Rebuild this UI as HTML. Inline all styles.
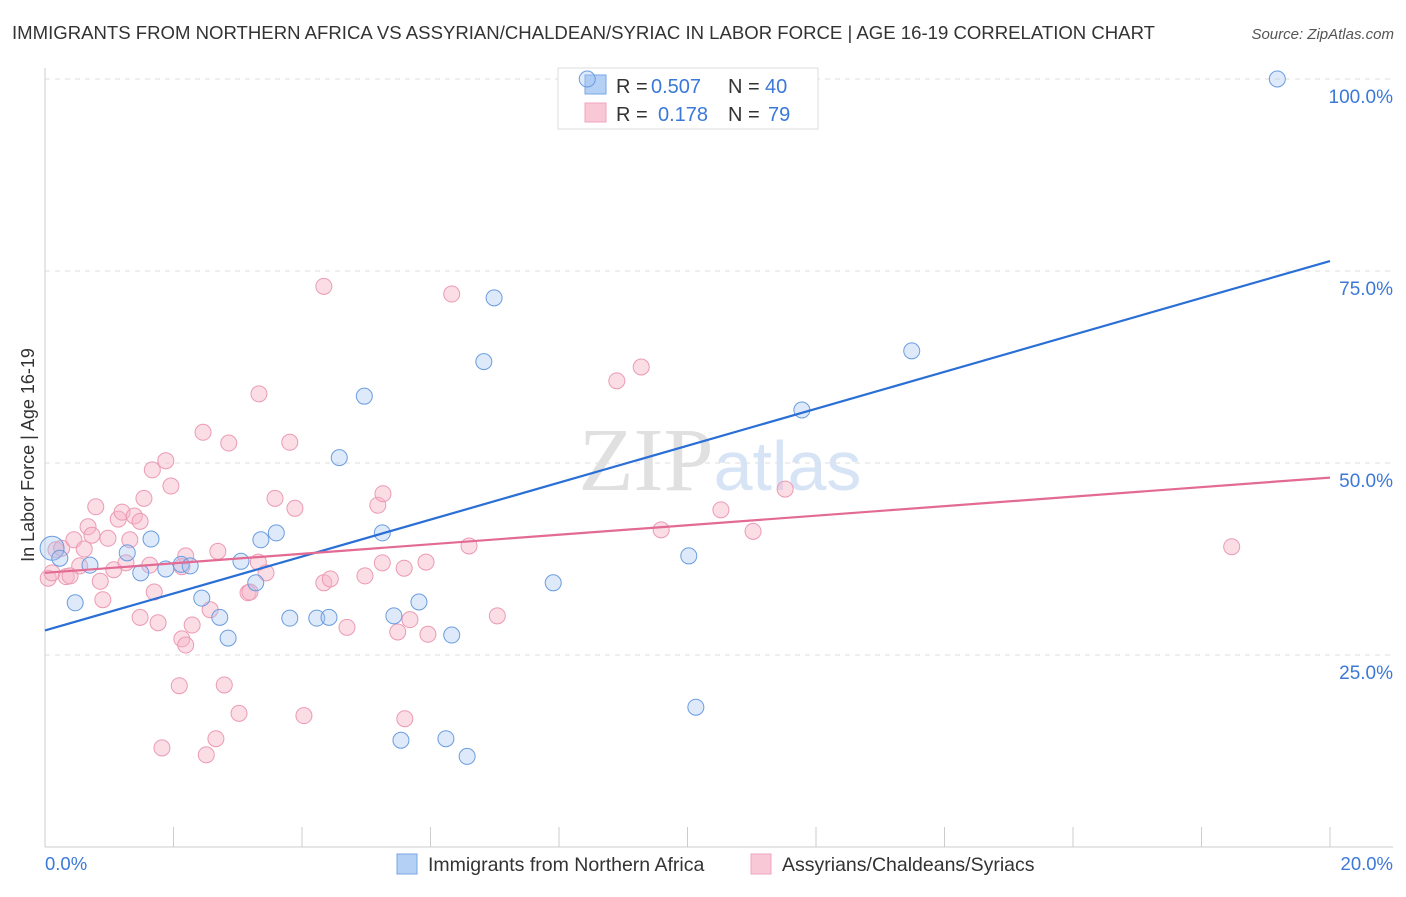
<!DOCTYPE html>
<html><head><meta charset="utf-8"><style>
body{margin:0;background:#fff;font-family:"Liberation Sans",sans-serif;}
svg text{font-family:"Liberation Sans",sans-serif;}
</style></head><body>
<svg width="1406" height="892" xmlns="http://www.w3.org/2000/svg">
<text x="12" y="39" font-size="18.5" fill="#333" textLength="1143" lengthAdjust="spacingAndGlyphs">IMMIGRANTS FROM NORTHERN AFRICA VS ASSYRIAN/CHALDEAN/SYRIAC IN LABOR FORCE | AGE 16-19 CORRELATION CHART</text>
<text x="1394" y="39" font-size="15" fill="#555" text-anchor="end" font-style="italic">Source: ZipAtlas.com</text>
<g id="grid"></g>
<text x="720" y="490" font-size="90" fill="#e4e4e4" text-anchor="middle" font-family="Liberation Serif"><tspan fill="#e0e0e0" font-family="Liberation Serif">ZIP</tspan><tspan fill="#d6e4f5" font-size="70" font-family="Liberation Sans">atlas</tspan></text>
<text transform="translate(34,455) rotate(-90)" font-size="18" fill="#333" text-anchor="middle">In Labor Force | Age 16-19</text>
<g>
<rect x="558" y="68" width="260" height="61" fill="#fff" stroke="#ddd"/>
<rect x="585" y="75" width="21" height="19" fill="#b5d0f5" stroke="#7aa6e6"/>
<rect x="585" y="103" width="21" height="19" fill="#f9c8d6" stroke="#f0a6bd"/>
<text x="616" y="93" font-size="20" fill="#333">R = <tspan x="651" fill="#3b78d8">0.507</tspan><tspan x="728">N = </tspan><tspan x="765" fill="#3b78d8">40</tspan></text>
<text x="616" y="121" font-size="20" fill="#333">R = <tspan x="658" fill="#3b78d8">0.178</tspan><tspan x="728">N = </tspan><tspan x="768" fill="#3b78d8">79</tspan></text>
</g>
<g id="pts"></g>
<g id="lines"></g>
<text x="45" y="870" font-size="18.5" fill="#3b78d8">0.0%</text>
<text x="1393" y="870" font-size="18.5" fill="#3b78d8" text-anchor="end">20.0%</text>
<g>
<rect x="397" y="854" width="20" height="20" fill="#b5d0f5" stroke="#7aa6e6"/>
<text x="428" y="871" font-size="19.5" fill="#333">Immigrants from Northern Africa</text>
<rect x="751" y="854" width="20" height="20" fill="#f9c8d6" stroke="#f0a6bd"/>
<text x="782" y="871" font-size="19.5" fill="#333">Assyrians/Chaldeans/Syriacs</text>
</g>
</svg>
<script>
const yTicks=[100,75,50,25];
const yTickLabels=["100.0%","75.0%","50.0%","25.0%"];
const blueX=[0.11,0.23,0.47,0.7,1.28,1.49,1.65,1.88,2.12,2.26,2.44,2.72,2.85,3.05,3.28,3.36,3.6,3.81,4.23,4.42,4.58,4.97,5.25,5.43,5.82,6.33,6.57,6.24,5.54,6.83,6.99,7.91,10.02,10.13,11.78,13.49,19.18,8.44];
const blueY=[38.9,37.6,31.8,36.7,38.3,35.7,40.1,36.2,36.8,36.6,32.4,29.9,27.2,37.2,34.4,40.0,40.9,29.8,29.8,29.9,50.7,58.7,40.9,30.1,31.9,27.6,11.8,14.1,13.9,63.2,71.5,34.4,37.9,18.2,56.9,64.6,100,100];
const pinkX=[.05,.11,.17,.26,.33,.39,.45,.54,.61,.67,.73,.79,.86,.90,.98,1.07,1.14,1.20,1.26,1.32,1.39,1.48,1.48,1.54,1.63,1.70,1.67,1.76,1.82,1.88,1.96,2.09,2.13,2.19,2.19,2.29,2.46,2.51,2.57,2.66,2.69,2.79,2.86,3.02,3.16,3.19,3.33,3.44,3.58,3.81,3.89,4.34,4.34,4.44,4.70,4.98,5.18,5.26,5.25,5.49,5.59,5.60,5.68,5.93,5.96,6.33,6.60,7.04,4.03,8.90,9.28,9.59,10.52,11.02,11.52,18.47,3.32,2.13];
const pinkY=[35.0,35.7,38.7,38.9,35.2,35.3,40.0,36.6,38.8,41.7,40.6,44.3,34.6,32.2,40.2,36.1,42.7,43.6,37.0,40.0,43.1,42.4,29.9,45.4,36.7,33.2,49.1,29.2,12.9,50.3,47.0,21.0,27.1,26.3,37.9,28.9,54.0,12.0,30.9,14.1,38.5,21.1,52.6,17.4,33.1,33.2,59.0,35.7,45.4,52.7,44.1,73.0,34.4,34.9,28.6,35.3,44.5,46.0,37.0,28.0,36.3,16.7,29.6,37.1,27.7,72.0,39.2,30.1,17.1,60.7,62.5,41.3,43.9,41.1,46.6,39.1,37.1,36.5];
const blueLine=[28.2,76.3];
const pinkLine=[35.7,48.1];
const NS="http://www.w3.org/2000/svg";
const sx=v=>45+v/20*1285, sy=v=>847-v/100*768;
function mk(t,a,p){const e=document.createElementNS(NS,t);for(const k in a)e.setAttribute(k,a[k]);p.appendChild(e);return e;}
const grid=document.getElementById('grid');
yTicks.forEach((t,i)=>{
 const l=mk('line',{x1:45,x2:1393,y1:sy(t),y2:sy(t),stroke:'#ddd','stroke-dasharray':'5,5'},grid);
 
 
 const tx=mk('text',{x:1393,y:sy(t)+24,'font-size':19,fill:'#3b78d8','text-anchor':'end'},grid);
 tx.textContent=yTickLabels[i];
 
 
});
const ax=mk('line',{x1:45,x2:45,y1:68,y2:847,stroke:'#ccc'},grid);


const bx=mk('line',{x1:45,x2:1393,y1:847,y2:847,stroke:'#ccc'},grid);


for(let i=0;i<=10;i++){
 const t=mk('line',{x1:sx(i*2),x2:sx(i*2),y1:827,y2:847,stroke:'#ccc'},grid);
 
 
}
const pts=document.getElementById('pts');
pinkX.forEach((x,i)=>{
 const c=mk('circle',{cx:sx(x),cy:sy(pinkY[i]),r:8,fill:'rgba(246,180,200,0.45)',stroke:'#ec9ab4','stroke-width':1},pts);
 
 
});
blueX.forEach((x,i)=>{
 const c=mk('circle',{cx:sx(x),cy:sy(blueY[i]),r:i==0?12:8,fill:'rgba(160,195,240,0.35)',stroke:'#6a9ce0','stroke-width':1},pts);
 
 
});
const lines=document.getElementById('lines');
const bl=mk('line',{x1:sx(0),y1:sy(blueLine[0]),x2:sx(20),y2:sy(blueLine[1]),stroke:'#2a6fd6','stroke-width':2.2},lines);


const pl=mk('line',{x1:sx(0),y1:sy(pinkLine[0]),x2:sx(20),y2:sy(pinkLine[1]),stroke:'#e36a93','stroke-width':2.2},lines);


</script>
</body></html>
